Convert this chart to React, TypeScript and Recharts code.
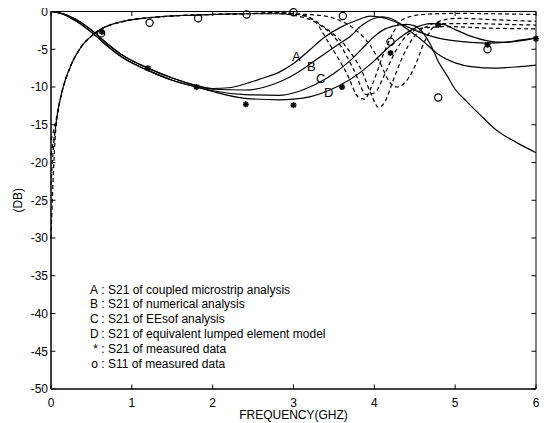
import React from 'react';
import { ComposedChart, Line, Scatter, XAxis, YAxis, ReferenceArea, ReferenceLine } from 'recharts';

type P = [number, number];

const xTicks = [0, 1, 2, 3, 4, 5, 6];
const yTicks = [0, -5, -10, -15, -20, -25, -30, -35, -40, -45, -50];

// S21 shared low-frequency part (upper and lower traces)
const s21StartUpper: P[] = [[0, 0], [0.15, -0.3], [0.3, -1.0], [0.54, -2.8], [0.7, -4.3], [0.9, -5.9], [1.2, -7.5], [1.5, -8.8], [1.8, -9.8]];
const s21StartLower: P[] = [[0, 0], [0.15, -0.35], [0.3, -1.2], [0.54, -3.1], [0.7, -4.6], [0.9, -6.2], [1.2, -7.8], [1.5, -9.1], [1.8, -10.0]];

const s21A: P[] = [[2.0, -10.2], [2.2, -10.1], [2.4, -9.6], [2.6, -8.9], [2.83, -8.0], [3.0, -6.9], [3.2, -5.1], [3.37, -3.5], [3.58, -2.1], [3.8, -1.1], [3.95, -0.6], [4.1, -0.8], [4.36, -1.8], [4.55, -2.7], [4.78, -3.5], [5.0, -3.9], [5.19, -4.1], [5.4, -4.2], [5.6, -4.1], [5.8, -3.8], [6.0, -3.5]];
const s21B: P[] = [[2.0, -10.3], [2.4, -10.4], [2.83, -9.3], [3.0, -8.4], [3.2, -7.0], [3.4, -5.5], [3.55, -4.4], [3.7, -3.3], [3.85, -1.8], [4.0, -0.9], [4.1, -0.7], [4.2, -0.9], [4.4, -2.3], [4.6, -3.9], [4.78, -5.6], [5.0, -6.8], [5.2, -7.3], [5.5, -7.5], [5.8, -7.3], [6.0, -7.1]];
const s21C: P[] = [[2.0, -10.5], [2.4, -11.0], [2.83, -11.1], [3.0, -10.8], [3.2, -10.0], [3.35, -9.2], [3.5, -8.2], [3.7, -6.5], [3.86, -4.8], [4.0, -3.3], [4.1, -2.5], [4.25, -1.9], [4.4, -1.7], [4.5, -1.9], [4.6, -2.8], [4.7, -4.5], [4.8, -6.8], [4.9, -8.5], [5.0, -10.3], [5.15, -12.0], [5.3, -13.6], [5.52, -15.8], [5.75, -17.3], [6.0, -18.7]];
const s21D: P[] = [[2.0, -10.6], [2.4, -11.5], [2.83, -11.7], [3.0, -11.6], [3.2, -11.3], [3.45, -10.4], [3.7, -9.0], [3.95, -7.0], [4.1, -5.5], [4.3, -3.6], [4.5, -2.2], [4.7, -1.6], [4.85, -1.7], [5.0, -2.4], [5.2, -3.3], [5.4, -3.9], [5.6, -4.1], [5.8, -3.9], [6.0, -3.5]];

// S11 traces
const s11Start: P[] = [[0.13, -10.9], [0.24, -7.3], [0.36, -4.9], [0.54, -2.9], [0.82, -1.5], [1.35, -0.7], [1.84, -0.45], [2.4, -0.3]];
const s11A: P[] = [[2.8, -0.2], [3.05, -0.4], [3.24, -1.1], [3.45, -4.4], [3.65, -8.0], [3.82, -11.5], [3.88, -11.6], [3.97, -9.8], [4.1, -6.0], [4.2, -3.5], [4.36, -1.0], [4.6, -0.4], [5.0, -0.25], [5.5, -0.3], [6.0, -0.4]];
const s11B: P[] = [[2.8, -0.15], [3.1, -0.4], [3.37, -2.0], [3.66, -4.8], [3.85, -8.0], [3.97, -11.2], [4.05, -12.7], [4.13, -12.0], [4.22, -9.5], [4.35, -6.0], [4.48, -3.5], [4.78, -1.4], [5.02, -0.9], [5.5, -1.1], [6.0, -1.3]];
const s11C: P[] = [[2.8, -0.3], [3.2, -0.4], [3.5, -0.9], [3.75, -2.3], [3.95, -4.5], [4.08, -7.0], [4.18, -9.2], [4.28, -10.0], [4.38, -9.4], [4.5, -7.3], [4.62, -4.0], [4.8, -1.6], [5.2, -1.6], [5.6, -1.7], [6.0, -1.8]];
const s11D: P[] = [[2.8, -0.3], [3.0, -0.5], [3.3, -1.6], [3.55, -4.0], [3.75, -7.8], [3.9, -11.0], [4.0, -10.8], [4.12, -8.5], [4.25, -5.5], [4.4, -3.2], [4.6, -2.2], [4.9, -2.0], [5.4, -2.2], [6.0, -2.3]];
const s11LowA: P[] = [[0, -19], [0.04, -16.5], [0.08, -13.5]];
const s11LowB: P[] = [[0, -30], [0.02, -24], [0.05, -17], [0.09, -13]];
const s11LowC: P[] = [[0, -17], [0.05, -15], [0.09, -12.8]];
const s11LowD: P[] = [[0, -23], [0.03, -18], [0.07, -14.2]];

// measured data
const measS21: P[] = [[0.63, -2.7], [1.2, -7.5], [1.8, -10.0], [2.41, -12.3], [3.0, -12.4], [3.6, -10.0], [4.2, -5.5], [4.79, -1.8], [5.4, -4.4], [6.0, -3.6]];
const measS11: P[] = [[0.62, -2.9], [1.22, -1.5], [1.82, -0.9], [2.42, -0.4], [3.0, -0.1], [3.61, -0.6], [4.2, -4.0], [4.79, -11.4], [5.4, -5.0]];

const legendRows: [string, string][] = [
  ['A', 'S21 of coupled microstrip analysis'],
  ['B', 'S21 of numerical analysis'],
  ['C', 'S21 of EEsof analysis'],
  ['D', 'S21 of equivalent lumped element model'],
  ['*', 'S21 of measured data'],
  ['o', 'S11 of measured data'],
];

const curveLabels = ['A', 'B', 'C', 'D'];

const toRows = (pts: P[]) => pts.map(([f, db]) => ({ f, db }));

const FONT = '"Liberation Sans", Arial, sans-serif';

const StarShape = (p: any) => {
  const { cx, cy } = p;
  if (cx == null || cy == null) return <g />;
  const r = 3;
  const d = r * 0.72;
  return (
    <g stroke="#000" strokeWidth={1.6}>
      <line x1={cx - r} y1={cy} x2={cx + r} y2={cy} />
      <line x1={cx} y1={cy - r} x2={cx} y2={cy + r} />
      <line x1={cx - d} y1={cy - d} x2={cx + d} y2={cy + d} />
      <line x1={cx - d} y1={cy + d} x2={cx + d} y2={cy - d} />
    </g>
  );
};

const CircleShape = (p: any) => {
  const { cx, cy } = p;
  if (cx == null || cy == null) return <g />;
  return <circle cx={cx} cy={cy} r={3.6} fill="none" stroke="#000" strokeWidth={1.2} />;
};

const solid = [
  toRows([...s21StartUpper, ...s21A]),
  toRows([...s21StartUpper, ...s21B]),
  toRows([...s21StartLower, ...s21C]),
  toRows([...s21StartLower, ...s21D]),
];
const dashed = [
  toRows([...s11LowA, ...s11Start, ...s11A]),
  toRows([...s11LowB, ...s11Start, ...s11B]),
  toRows([...s11LowC, ...s11Start, ...s11C]),
  toRows([...s11LowD, ...s11Start, ...s11D]),
];

const X0 = xTicks[0];
const X1 = xTicks[xTicks.length - 1];
const Y0 = yTicks[yTicks.length - 1];
const Y1 = yTicks[0];
const TX = 0.055; // tick length in GHz (~4.5px)
const TY = 0.6; // tick length in dB (~4.5px)

export default function App() {
  const tickStyle = { fill: '#000', fontSize: 12, fontFamily: FONT };
  const tickSeg = (key: string, a: { x: number; y: number }, b: { x: number; y: number }) => (
    <ReferenceLine key={key} xAxisId="main" yAxisId="main" segment={[a, b]} stroke="#000" strokeWidth={1} ifOverflow="visible" />
  );
  return (
    <div style={{ position: 'relative', width: 539, height: 423, marginTop: -8 }}>
      <ComposedChart width={539} height={423} margin={{ top: 11.5, right: 11, bottom: 0, left: 0 }}>
        <XAxis
          xAxisId="main"
          dataKey="f"
          type="number"
          domain={[X0, X1]}
          ticks={xTicks}
          interval={0}
          height={34}
          tickSize={0}
          tickMargin={9}
          tick={tickStyle}
          axisLine={{ stroke: '#000', strokeWidth: 1 }}
          tickLine={false}
          label={{ value: 'FREQUENCY(GHZ)', position: 'insideBottom', offset: 4, style: { fill: '#000', fontSize: 12, fontFamily: FONT } }}
        />
        <YAxis
          yAxisId="main"
          type="number"
          domain={[Y0, Y1]}
          ticks={yTicks}
          interval={0}
          width={43}
          tickSize={0}
          tickMargin={3}
          tick={tickStyle}
          axisLine={{ stroke: '#000', strokeWidth: 1 }}
          tickLine={false}
          label={{ value: '(DB)', angle: -90, position: 'insideLeft', offset: 10, style: { fill: '#000', fontSize: 12, fontFamily: FONT, textAnchor: 'middle' } }}
        />
        <ReferenceArea xAxisId="main" yAxisId="main" x1={X0} x2={X1} y1={Y0} y2={Y1} fill="none" stroke="#000" strokeWidth={1} ifOverflow="visible" />
        {yTicks.map((t) => tickSeg('yl' + t, { x: X0, y: t }, { x: X0 + TX, y: t }))}
        {yTicks.map((t) => tickSeg('yr' + t, { x: X1, y: t }, { x: X1 - TX, y: t }))}
        {xTicks.map((t) => tickSeg('xb' + t, { x: t, y: Y0 }, { x: t, y: Y0 + TY }))}
        {xTicks.map((t) => tickSeg('xt' + t, { x: t, y: Y1 }, { x: t, y: Y1 - TY }))}
        {dashed.map((d, i) => (
          <Line
            key={'d' + i}
            xAxisId="main"
            yAxisId="main"
            data={d}
            dataKey="db"
            type="monotone"
            stroke="#000"
            strokeWidth={1.2}
            strokeDasharray="4 3"
            dot={false}
            activeDot={false}
            isAnimationActive={false}
          />
        ))}
        {solid.map((d, i) => (
          <Line
            key={'s' + i}
            xAxisId="main"
            yAxisId="main"
            data={d}
            dataKey="db"
            type="monotone"
            stroke="#000"
            strokeWidth={1.2}
            dot={false}
            activeDot={false}
            isAnimationActive={false}
          />
        ))}
        <Scatter xAxisId="main" yAxisId="main" data={toRows(measS21)} dataKey="db" shape={StarShape} isAnimationActive={false} />
        <Scatter xAxisId="main" yAxisId="main" data={toRows(measS11)} dataKey="db" shape={CircleShape} isAnimationActive={false} />
      </ComposedChart>
      <div style={{ position: 'absolute', left: 82, top: 282.5, fontFamily: FONT, fontSize: 12, color: '#000', lineHeight: '14.9px', whiteSpace: 'nowrap' }}>
        {legendRows.map(([k, t]) => (
          <div key={k}>
            <span style={{ display: 'inline-block', width: 8, textAlign: 'right' }}>{k}</span>
            <span>{' : ' + t}</span>
          </div>
        ))}
      </div>
      {curveLabels.map((k, i) => (
        <div
          key={k}
          style={{ position: 'absolute', left: [284, 299, 308, 316][i], top: [49, 59, 71, 85][i], fontFamily: FONT, fontSize: 13, color: '#000' }}
        >
          {k}
        </div>
      ))}
    </div>
  );
}
